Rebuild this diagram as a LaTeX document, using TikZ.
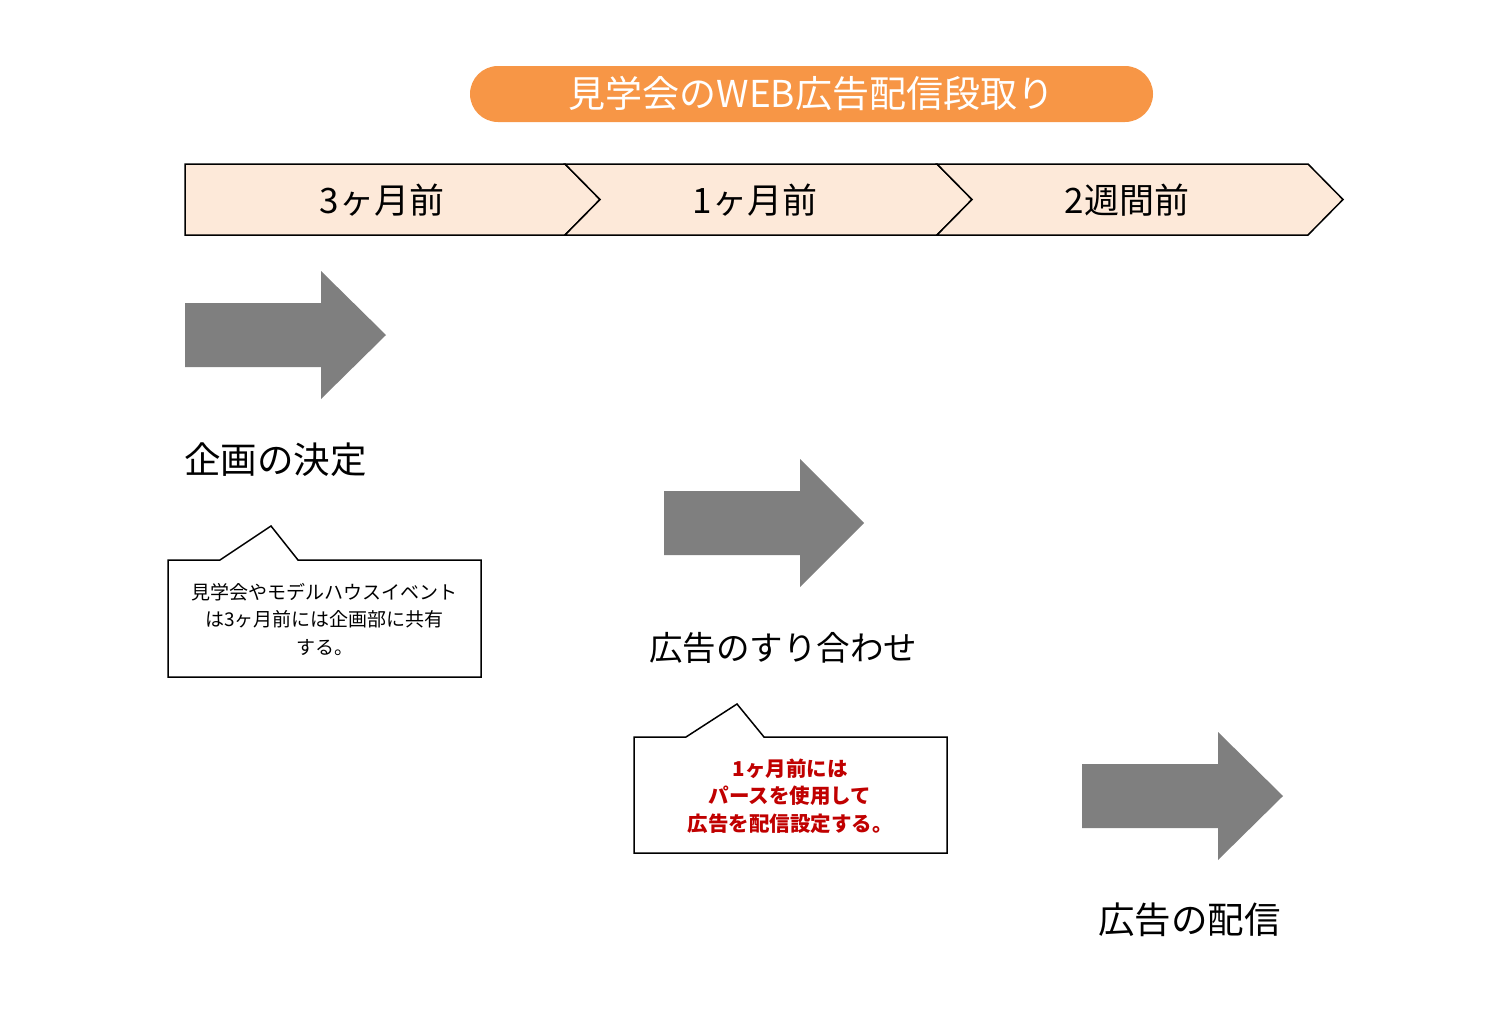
\documentclass[tikz,border=0pt]{standalone}
\usepackage{fontspec}
\setmainfont{Noto Sans CJK JP}
\definecolor{titleorange}{HTML}{F79646}
\definecolor{peach}{HTML}{FDE9D9}
\definecolor{arrowgray}{HTML}{7F7F7F}
\definecolor{darkred}{HTML}{C00000}
\tikzset{
  chev/.style={fill=peach,draw=black,line width=1.5pt,line join=miter},
  chevtext/.style={font=\fontsize{35}{40}\selectfont,text=black,inner sep=0pt},
  bigarrow/.style={fill=arrowgray,draw=none},
  steplabel/.style={font=\fontsize{36.5}{40}\selectfont,anchor=west,inner sep=0pt},
  callout/.style={fill=white,draw=black,line width=1.5pt,line join=miter},
  callouttext/.style={align=center,inner sep=0pt,font=\fontsize{19}{27.5}\selectfont},
}
\begin{document}
\begin{tikzpicture}[x=1pt,y=-1pt]
\useasboundingbox (0,0) rectangle (1510,1020);
% title
\node[fill=titleorange,rounded corners=28pt,minimum width=683pt,minimum height=56pt,inner sep=0pt,
  text=white,font=\fontsize{37}{40}\selectfont] (title) at (811.5,94) {見学会のWEB広告配信段取り};
% chevrons
\draw[chev] (185,164) -- (565,164) -- (600,199.5) -- (565,235) -- (185,235) -- cycle;
\draw[chev] (565,164) -- (937,164) -- (972,199.5) -- (937,235) -- (565,235) -- (600,199.5) -- cycle;
\draw[chev] (937,164) -- (1308,164) -- (1343,199.5) -- (1308,235) -- (937,235) -- (972,199.5) -- cycle;
\node[chevtext] (c1) at (382,200) {3ヶ月前};
\node[chevtext] (c2) at (755,200) {1ヶ月前};
\node[chevtext] (c3) at (1127,200) {2週間前};
% gray arrows
\draw[bigarrow] (185,303) -- (321,303) -- (321,271) -- (386,335) -- (321,399) -- (321,367) -- (185,367) -- cycle;
\draw[bigarrow] (664,491) -- (800,491) -- (800,459) -- (864,523) -- (800,587) -- (800,555) -- (664,555) -- cycle;
\draw[bigarrow] (1082,764) -- (1218,764) -- (1218,732) -- (1283,796) -- (1218,860) -- (1218,828) -- (1082,828) -- cycle;
% step labels
\node[steplabel] (s1) at (184,460) {企画の決定};
\node[steplabel,font=\fontsize{33.5}{40}\selectfont] (s2) at (649,648) {広告のすり合わせ};
\node[steplabel] (s3) at (1098,920) {広告の配信};
% callout 1
\draw[callout] (168,560) -- (220,560) -- (271,526) -- (298,560) -- (481,560) -- (481,677) -- (168,677) -- cycle;
\node[callouttext] (n1) at (324.5,619) {見学会やモデルハウスイベント\\は3ヶ月前には企画部に共有\\する。};
% callout 2
\draw[callout] (634,737) -- (686,737) -- (737,704) -- (764,737) -- (947,737) -- (947,853) -- (634,853) -- cycle;
\node[callouttext,text=darkred,font=\fontsize{20.5}{27.5}\selectfont\bfseries] (n2) at (790,796) {1ヶ月前には\\パースを使用して\\広告を配信設定する。};
\end{tikzpicture}
\end{document}
